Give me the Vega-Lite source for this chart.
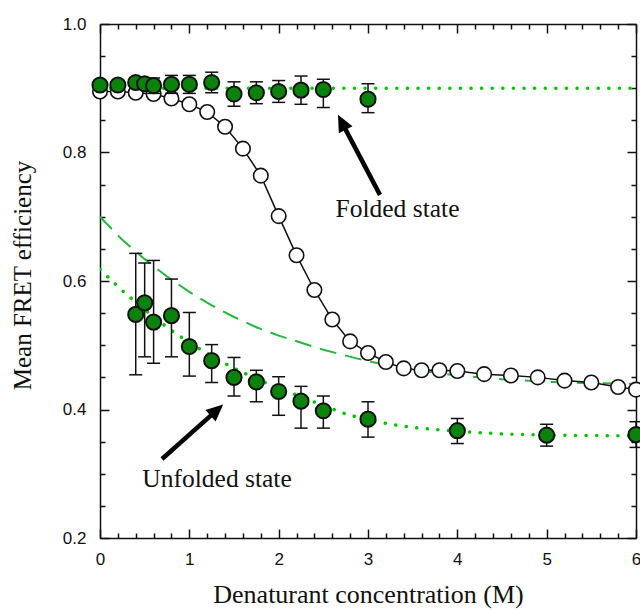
{
  "$schema": "https://vega.github.io/schema/vega-lite/v6.json",
  "width": 536,
  "height": 514,
  "autosize": {"type": "none"},
  "padding": {"left": 100, "top": 24, "right": 4, "bottom": 73},
  "background": "white",
  "config": {"view": {"stroke": null}, "axis": {"grid": false, "tickColor": "#111111", "tickWidth": 1.5, "tickOpacity": 1, "domainColor": "#111", "domainWidth": 1.5}},
  "datasets": {
    "folded": [
      {"x": 0, "y": 0.895}, {"x": 0.2, "y": 0.895}, {"x": 0.4, "y": 0.893}, {"x": 0.6, "y": 0.891},
      {"x": 0.8, "y": 0.884}, {"x": 1.0, "y": 0.875}, {"x": 1.2, "y": 0.863}, {"x": 1.4, "y": 0.84},
      {"x": 1.6, "y": 0.806}, {"x": 1.8, "y": 0.764}, {"x": 2.0, "y": 0.701}, {"x": 2.2, "y": 0.64},
      {"x": 2.4, "y": 0.586}, {"x": 2.6, "y": 0.54}, {"x": 2.8, "y": 0.506}, {"x": 3.0, "y": 0.488},
      {"x": 3.2, "y": 0.474}, {"x": 3.4, "y": 0.464}, {"x": 3.6, "y": 0.461}, {"x": 3.8, "y": 0.461},
      {"x": 4.0, "y": 0.46}, {"x": 4.3, "y": 0.455}, {"x": 4.6, "y": 0.453}, {"x": 4.9, "y": 0.45},
      {"x": 5.2, "y": 0.445}, {"x": 5.5, "y": 0.442}, {"x": 5.8, "y": 0.435}, {"x": 6.0, "y": 0.431}
    ],
    "greenFolded": [
      {"x": 0, "y": 0.905, "lo": 0.9, "hi": 0.91},
      {"x": 0.2, "y": 0.905, "lo": 0.9, "hi": 0.91},
      {"x": 0.4, "y": 0.909, "lo": 0.904, "hi": 0.914},
      {"x": 0.5, "y": 0.907, "lo": 0.902, "hi": 0.912},
      {"x": 0.6, "y": 0.904, "lo": 0.892, "hi": 0.916},
      {"x": 0.8, "y": 0.906, "lo": 0.892, "hi": 0.92},
      {"x": 1.0, "y": 0.906, "lo": 0.892, "hi": 0.92},
      {"x": 1.25, "y": 0.909, "lo": 0.893, "hi": 0.925},
      {"x": 1.5, "y": 0.891, "lo": 0.872, "hi": 0.91},
      {"x": 1.75, "y": 0.893, "lo": 0.876, "hi": 0.91},
      {"x": 2.0, "y": 0.895, "lo": 0.878, "hi": 0.912},
      {"x": 2.25, "y": 0.897, "lo": 0.875, "hi": 0.919},
      {"x": 2.5, "y": 0.898, "lo": 0.87, "hi": 0.914},
      {"x": 3.0, "y": 0.883, "lo": 0.862, "hi": 0.907}
    ],
    "greenUnfolded": [
      {"x": 0.4, "y": 0.548, "lo": 0.454, "hi": 0.643},
      {"x": 0.5, "y": 0.566, "lo": 0.482, "hi": 0.628},
      {"x": 0.6, "y": 0.536, "lo": 0.472, "hi": 0.632},
      {"x": 0.8, "y": 0.546, "lo": 0.482, "hi": 0.603},
      {"x": 1.0, "y": 0.498, "lo": 0.452, "hi": 0.551},
      {"x": 1.25, "y": 0.476, "lo": 0.442, "hi": 0.501},
      {"x": 1.5, "y": 0.45, "lo": 0.421, "hi": 0.481},
      {"x": 1.75, "y": 0.443, "lo": 0.412, "hi": 0.461},
      {"x": 2.0, "y": 0.428, "lo": 0.391, "hi": 0.451},
      {"x": 2.25, "y": 0.413, "lo": 0.371, "hi": 0.436},
      {"x": 2.5, "y": 0.398, "lo": 0.371, "hi": 0.421},
      {"x": 3.0, "y": 0.385, "lo": 0.357, "hi": 0.412},
      {"x": 4.0, "y": 0.367, "lo": 0.347, "hi": 0.386},
      {"x": 5.0, "y": 0.36, "lo": 0.343, "hi": 0.377},
      {"x": 6.0, "y": 0.361, "lo": 0.341, "hi": 0.381}
    ],
    "fitDash": [
      {"x": 0, "y": 0.7}, {"x": 0.25, "y": 0.664}, {"x": 0.5, "y": 0.634}, {"x": 0.75, "y": 0.607},
      {"x": 1.0, "y": 0.583}, {"x": 1.25, "y": 0.562}, {"x": 1.5, "y": 0.544}, {"x": 1.75, "y": 0.528},
      {"x": 2.0, "y": 0.515}, {"x": 2.5, "y": 0.493}, {"x": 3.0, "y": 0.475}, {"x": 3.5, "y": 0.462},
      {"x": 4.0, "y": 0.453}, {"x": 4.5, "y": 0.447}, {"x": 5.0, "y": 0.443}, {"x": 5.5, "y": 0.441},
      {"x": 6.0, "y": 0.44}
    ],
    "fitUnfolded": [
      {"x": 0, "y": 0.618}, {"x": 0.25, "y": 0.585}, {"x": 0.5, "y": 0.555}, {"x": 0.75, "y": 0.528},
      {"x": 1.0, "y": 0.504}, {"x": 1.25, "y": 0.483}, {"x": 1.5, "y": 0.464}, {"x": 1.75, "y": 0.448},
      {"x": 2.0, "y": 0.433}, {"x": 2.25, "y": 0.42}, {"x": 2.5, "y": 0.406}, {"x": 2.75, "y": 0.393},
      {"x": 3.0, "y": 0.384}, {"x": 3.25, "y": 0.377}, {"x": 3.5, "y": 0.372}, {"x": 4.0, "y": 0.366},
      {"x": 4.5, "y": 0.362}, {"x": 5.0, "y": 0.36}, {"x": 6.0, "y": 0.359}
    ],
    "fitFolded": [{"x": 0, "y": 0.9}, {"x": 6, "y": 0.9}],
    "arrows": [
      {"name": "folded", "x": 3.134, "y": 0.734, "x2": 2.716, "y2": 0.8445},
      {"name": "unfolded", "x": 0.694, "y": 0.323, "x2": 1.293, "y2": 0.397}
    ],
    "labels": [
      {"text": "Folded state", "x": 3.33, "y": 0.7},
      {"text": "Unfolded state", "x": 1.31, "y": 0.28}
    ]
  },
  "resolve": {"axis": {"x": "independent", "y": "independent"}},
  "layer": [
    {
      "data": {"name": "fitDash"},
      "mark": {"type": "line", "color": "#22b83c", "strokeWidth": 2, "strokeDash": [17, 9], "clip": true},
      "encoding": {
        "x": {"field": "x", "type": "quantitative", "scale": {"domain": [0, 6], "nice": false},
          "axis": {"orient": "bottom", "values": [0, 1, 2, 3, 4, 5, 6], "format": "d", "tickSize": -9, "tickColor": "#111111",
            "labelFont": "Liberation Sans", "labelFontSize": 17, "labelColor": "#111", "labelPadding": 22, "labelFlush": false,
            "title": "Denaturant concentration (M)", "titleFont": "Liberation Serif",
            "titleFontSize": 26, "titleFontWeight": "normal", "titleColor": "#111", "titlePadding": 14}},
        "y": {"field": "y", "type": "quantitative", "scale": {"domain": [0.2, 1.0], "nice": false},
          "axis": {"orient": "left", "values": [0.2, 0.4, 0.6, 0.8, 1.0], "format": ".1f", "tickSize": -9, "tickColor": "#111111",
            "labelFont": "Liberation Sans", "labelFontSize": 17, "labelColor": "#111", "labelPadding": 23, "labelFlush": false,
            "title": "Mean FRET efficiency", "titleFont": "Liberation Serif", "titleY": 251,
            "titleFontSize": 25, "titleFontWeight": "normal", "titleColor": "#111", "titlePadding": 27}}
      }
    },
    {
      "data": {"name": "fitUnfolded"},
      "mark": {"type": "line", "color": "#00c800", "strokeWidth": 3.5, "strokeDash": [0.1, 10.5], "strokeCap": "round", "clip": true},
      "encoding": {
        "x": {"field": "x", "type": "quantitative",
          "axis": {"orient": "top", "values": [0, 1, 2, 3, 4, 5, 6], "labels": false, "title": null, "tickSize": -9, "tickColor": "#111111"}},
        "y": {"field": "y", "type": "quantitative",
          "axis": {"orient": "right", "values": [0.2, 0.4, 0.6, 0.8, 1.0], "labels": false, "title": null, "tickSize": -9, "tickColor": "#111111"}}
      }
    },
    {
      "data": {"name": "fitFolded"},
      "mark": {"type": "line", "color": "#00c800", "strokeWidth": 3.5, "strokeDash": [0.1, 10.5], "strokeCap": "round", "clip": true},
      "encoding": {
        "x": {"field": "x", "type": "quantitative",
          "axis": {"orient": "bottom", "values": [0.2,0.4,0.6,0.8,1.2,1.4,1.6,1.8,2.2,2.4,2.6,2.8,3.2,3.4,3.6,3.8,4.2,4.4,4.6,4.8,5.2,5.4,5.6,5.8],
            "labels": false, "title": null, "domain": false, "tickSize": -5, "tickColor": "#111111"}},
        "y": {"field": "y", "type": "quantitative",
          "axis": {"orient": "left", "values": [0.25,0.3,0.35,0.45,0.5,0.55,0.65,0.7,0.75,0.85,0.9,0.95],
            "labels": false, "title": null, "domain": false, "tickSize": -5, "tickColor": "#111111"}}
      }
    },
    {
      "data": {"name": "folded"},
      "mark": {"type": "line", "color": "#111", "strokeWidth": 1.5},
      "encoding": {
        "x": {"field": "x", "type": "quantitative",
          "axis": {"orient": "top", "values": [0.2,0.4,0.6,0.8,1.2,1.4,1.6,1.8,2.2,2.4,2.6,2.8,3.2,3.4,3.6,3.8,4.2,4.4,4.6,4.8,5.2,5.4,5.6,5.8],
            "labels": false, "title": null, "domain": false, "tickSize": -5, "tickColor": "#111111"}},
        "y": {"field": "y", "type": "quantitative",
          "axis": {"orient": "right", "values": [0.25,0.3,0.35,0.45,0.5,0.55,0.65,0.7,0.75,0.85,0.9,0.95],
            "labels": false, "title": null, "domain": false, "tickSize": -5, "tickColor": "#111111"}}
      }
    },
    {
      "data": {"name": "folded"},
      "mark": {"type": "point", "shape": "circle", "filled": true, "fill": "white", "stroke": "#111", "strokeWidth": 1.6, "size": 210, "opacity": 1},
      "encoding": {
        "x": {"field": "x", "type": "quantitative", "axis": null},
        "y": {"field": "y", "type": "quantitative", "axis": null}
      }
    },
    {
      "data": {"name": "arrows"},
      "mark": {"type": "rule", "color": "black", "strokeWidth": 4.5},
      "encoding": {
        "x": {"field": "x", "type": "quantitative", "axis": null},
        "y": {"field": "y", "type": "quantitative", "axis": null},
        "x2": {"field": "x2"},
        "y2": {"field": "y2"}
      }
    },
    {
      "data": {"name": "arrows"},
      "transform": [{"filter": "datum.name === 'folded'"}],
      "mark": {"type": "point", "shape": "M0,-1L0.75,0.65L-0.75,0.65Z", "filled": true, "fill": "black", "stroke": null, "size": 420, "angle": 333, "opacity": 1},
      "encoding": {
        "x": {"field": "x2", "type": "quantitative", "axis": null},
        "y": {"field": "y2", "type": "quantitative", "axis": null}
      }
    },
    {
      "data": {"name": "arrows"},
      "transform": [{"filter": "datum.name === 'unfolded'"}],
      "mark": {"type": "point", "shape": "M0,-1L0.75,0.65L-0.75,0.65Z", "filled": true, "fill": "black", "stroke": null, "size": 420, "angle": 48.4, "opacity": 1},
      "encoding": {
        "x": {"field": "x2", "type": "quantitative", "axis": null},
        "y": {"field": "y2", "type": "quantitative", "axis": null}
      }
    },
    {
      "data": {"name": "greenFolded"},
      "layer": [
        {"mark": {"type": "rule", "color": "#111", "strokeWidth": 1.5},
         "encoding": {"x": {"field": "x", "type": "quantitative", "axis": null}, "y": {"field": "lo", "type": "quantitative", "axis": null}, "y2": {"field": "hi"}}},
        {"mark": {"type": "tick", "color": "#111", "thickness": 1.5, "size": 13, "orient": "horizontal", "opacity": 1},
         "encoding": {"x": {"field": "x", "type": "quantitative", "axis": null}, "y": {"field": "lo", "type": "quantitative", "axis": null}}},
        {"mark": {"type": "tick", "color": "#111", "thickness": 1.5, "size": 13, "orient": "horizontal", "opacity": 1},
         "encoding": {"x": {"field": "x", "type": "quantitative", "axis": null}, "y": {"field": "hi", "type": "quantitative", "axis": null}}},
        {"mark": {"type": "point", "shape": "circle", "filled": true, "fill": "#0b820b", "stroke": "#111", "strokeWidth": 2, "size": 230, "opacity": 1},
         "encoding": {"x": {"field": "x", "type": "quantitative", "axis": null}, "y": {"field": "y", "type": "quantitative", "axis": null}}}
      ]
    },
    {
      "data": {"name": "greenUnfolded"},
      "layer": [
        {"mark": {"type": "rule", "color": "#111", "strokeWidth": 1.5},
         "encoding": {"x": {"field": "x", "type": "quantitative", "axis": null}, "y": {"field": "lo", "type": "quantitative", "axis": null}, "y2": {"field": "hi"}}},
        {"mark": {"type": "tick", "color": "#111", "thickness": 1.5, "size": 13, "orient": "horizontal", "opacity": 1},
         "encoding": {"x": {"field": "x", "type": "quantitative", "axis": null}, "y": {"field": "lo", "type": "quantitative", "axis": null}}},
        {"mark": {"type": "tick", "color": "#111", "thickness": 1.5, "size": 13, "orient": "horizontal", "opacity": 1},
         "encoding": {"x": {"field": "x", "type": "quantitative", "axis": null}, "y": {"field": "hi", "type": "quantitative", "axis": null}}},
        {"mark": {"type": "point", "shape": "circle", "filled": true, "fill": "#0b820b", "stroke": "#111", "strokeWidth": 2, "size": 230, "opacity": 1},
         "encoding": {"x": {"field": "x", "type": "quantitative", "axis": null}, "y": {"field": "y", "type": "quantitative", "axis": null}}}
      ]
    },
    {
      "data": {"name": "labels"},
      "mark": {"type": "text", "font": "Liberation Serif", "fontSize": 25.5, "fontWeight": "normal", "color": "#111", "align": "center", "baseline": "alphabetic"},
      "encoding": {
        "x": {"field": "x", "type": "quantitative", "axis": null},
        "y": {"field": "y", "type": "quantitative", "axis": null},
        "text": {"field": "text"}
      }
    }
  ]
}
